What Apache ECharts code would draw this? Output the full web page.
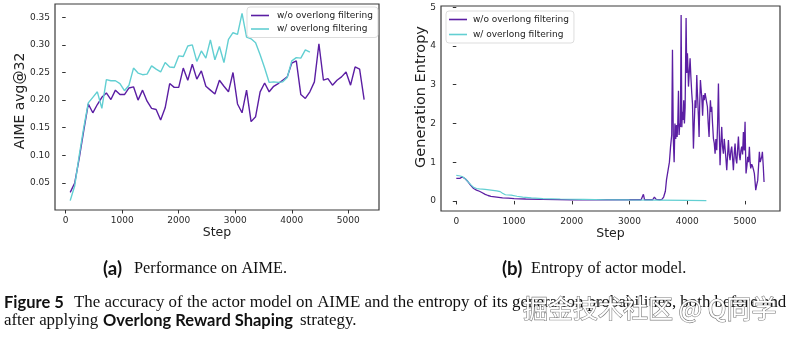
<!DOCTYPE html>
<html>
<head>
<meta charset="utf-8">
<script src="https://cdn.jsdelivr.net/npm/echarts@6/dist/echarts.min.js"></script>
<style>
  html, body { margin: 0; padding: 0; background: #fff; }
  #chart { width: 791px; height: 337px; }
</style>
</head>
<body>
<div id="chart"></div>
<script>
// ---- Panel (a): AIME avg@32, evaluated every 80 training steps ----
const aimeSteps = [80,160,240,320,400,480,560,640,720,800,880,960,1040,1120,1200,1280,1360,1440,1520,1600,
  1680,1760,1840,1920,2000,2080,2160,2240,2320,2400,2480,2560,2640,2720,2800,2880,2960,3040,3120,3200,
  3280,3360,3440,3520,3600,3680,3760,3840,3920,4000,4080,4160,4240,4320,4400,4480,4560,4640,4720,4800,
  4880,4960,5040,5120,5200,5280];
const aimeWithout = [0.033,0.050,0.095,0.145,0.193,0.177,0.192,0.205,0.213,0.201,
  0.218,0.210,0.210,0.222,0.224,0.200,0.218,0.198,0.185,0.183,
  0.164,0.186,0.230,0.223,0.223,0.258,0.236,0.265,0.238,0.253,
  0.225,0.218,0.211,0.236,0.225,0.215,0.250,0.193,0.177,0.218,
  0.161,0.170,0.215,0.231,0.215,0.225,0.230,0.236,0.242,0.267,
  0.271,0.210,0.203,0.215,0.233,0.302,0.236,0.239,0.227,0.236,
  0.242,0.251,0.227,0.260,0.256,0.201];
// the filtered run stops at step 4320
const aimeWith = [0.018,0.045,0.100,0.150,0.195,0.205,0.215,0.185,0.237,0.235,
  0.235,0.230,0.217,0.227,0.258,0.249,0.246,0.247,0.262,0.256,
  0.251,0.268,0.260,0.259,0.280,0.279,0.298,0.300,0.270,0.289,
  0.276,0.309,0.273,0.297,0.268,0.310,0.322,0.319,0.357,0.314,
  0.311,0.304,0.282,0.258,0.232,0.233,0.232,0.233,0.241,0.271,
  0.277,0.276,0.291,0.287];

// ---- Panel (b): generation entropy of the actor ----
// calm phase, up to the collapse at ~3700 steps
const entropyStepsCalm = [0,30,60,100,150,200,250,300,350,400,450,500,550,600,700,800,900,1000,1200,1500,
  2000,2500,3000,3200,3240,3260,3300,3400,3430,3460,3490,3520,3560,3590,3620,3640,3660,3690,3710,3730];
const entropyCalm = [0.58,0.60,0.58,0.62,0.58,0.50,0.40,0.32,0.28,0.25,0.21,0.17,0.14,0.12,0.10,0.08,0.07,0.06,0.05,0.04,
  0.03,0.03,0.03,0.03,0.17,0.03,0.03,0.03,0.10,0.04,0.08,0.03,0.04,0.10,0.25,0.55,0.55,1.00,1.40,1.70];
// unstable phase after the collapse
const entropyStepsWild = [3743,3758,3772,3786,3800,3812,3824,3835,3847,3858,
  3870,3881,3893,3905,3915,3927,3938,3950,3962,3979,
  3990,4002,4012,4020,4034,4048,4062,4077,4090,4106,
  4120,4135,4150,4164,4172,4181,4192,4204,4215,4227,
  4238,4250,4265,4279,4293,4308,4328,4348,4362,4377,
  4388,4400,4412,4423,4437,4452,4466,4481,4495,4510,
  4525,4539,4553,4567,4582,4596,4610,4625,4640,4654,
  4668,4683,4698,4712,4726,4740,4755,4769,4784,4798,
  4812,4827,4841,4856,4870,4885,4900,4914,4928,4942,
  4957,4971,4985,5000,5008,5017,5032,5046,5060,5075,
  5087,5098,5115,5133,5147,5161,5173,5185,5200,5219,
  5234,5248,5262,5277,5290,5300,5315,5329];
const entropyWild = [3.90,1.60,1.00,2.00,1.60,1.96,1.65,2.00,2.84,1.70,
  2.00,1.91,4.80,1.90,2.30,2.09,2.60,2.00,2.40,4.72,
  3.30,3.81,3.40,2.95,3.30,3.68,3.20,2.78,2.50,1.35,
  2.00,2.60,2.40,3.25,2.90,2.60,2.20,1.65,2.50,3.12,
  2.90,2.69,2.20,2.73,2.60,2.78,2.60,2.43,2.00,1.65,
  2.20,2.60,2.30,2.43,2.00,1.61,1.50,1.22,1.60,1.31,
  2.00,3.03,1.80,0.92,1.50,1.91,1.40,1.22,1.60,1.57,
  1.10,0.79,1.20,1.57,1.20,1.05,1.30,1.40,1.10,0.79,
  1.20,1.48,1.10,0.97,1.30,1.66,1.20,1.05,1.30,1.40,
  1.20,1.78,1.30,2.04,1.30,0.71,0.90,1.14,1.00,1.40,
  1.00,0.84,0.95,0.88,0.80,0.71,0.50,0.28,0.40,0.53,
  0.90,1.27,1.00,0.97,1.15,1.27,0.90,0.49];
const entropyStepsWith = [0,50,100,150,200,250,300,350,400,500,600,700,760,800,850,950,1050,1150,1300,1500,
  1800,2200,2600,3000,3500,4000,4330];
const entropyWith = [0.66,0.65,0.63,0.58,0.50,0.42,0.35,0.32,0.31,0.30,0.28,0.26,0.24,0.20,0.16,0.15,0.12,0.10,0.08,0.06,
  0.05,0.04,0.03,0.025,0.02,0.015,0.01];

// ---- tick labels and names ----
const stepTicks = [0,1000,2000,3000,4000,5000];
const aimeTicks = [0.05,0.10,0.15,0.20,0.25,0.30,0.35];
const entropyTicks = [0,1,2,3,4,5];
const seriesNames = ['w/o overlong filtering', 'w/ overlong filtering'];

const PURPLE = '#5b1ea3';
const CYAN = '#62cfd2';
const SANS = 'DejaVu Sans';
const SERIF = 'Liberation Serif';
const BOLD = 'Lato';

const zip = (xs, ys) => ys.map((y, i) => [xs[i], y]);

// font size that makes a string span a given width
const mctx = document.createElement('canvas').getContext('2d');
function fitSize(text, family, weight, width) {
  mctx.font = weight + ' 100px "' + family + '"';
  return 100 * width / mctx.measureText(text).width;
}

const capLine1 = 'The accuracy of the actor model on AIME and the entropy of its generation probabilities, both before and';
const serifSize = fitSize(capLine1, SERIF, 'normal', 713);
const boldSize = fitSize('Overlong Reward Shaping', BOLD, 'bold', 190);
const panelTagSize = fitSize('(a)', BOLD, 'bold', 19);
const subSize = fitSize('Performance on AIME.', SERIF, 'normal', 153);

function xAxisCfg(gridIndex, min, max) {
  return {
    type: 'value', gridIndex, min, max,
    axisLine: { show: false },
    axisTick: { show: true, length: 3.5, customValues: stepTicks, lineStyle: { color: '#333', width: 1 } },
    axisLabel: { customValues: stepTicks, fontSize: 9, fontFamily: SANS, color: '#2a2a2a', margin: 6,
      formatter: v => String(v) },
    splitLine: { show: false },
    name: 'Step', nameLocation: 'middle', nameGap: 16, nameMoveOverlap: false,
    nameTextStyle: { fontSize: 12.5, fontFamily: SANS, color: '#222' }
  };
}
function yAxisCfg(gridIndex, min, max, ticks, fmt) {
  return {
    type: 'value', gridIndex, min, max,
    axisLine: { show: false },
    axisTick: { show: true, length: 3.5, customValues: ticks, lineStyle: { color: '#333', width: 1 } },
    axisLabel: { customValues: ticks, fontSize: 9, fontFamily: SANS, color: '#2a2a2a', margin: 5, formatter: fmt },
    splitLine: { show: false }
  };
}
function legendCfg(left, top, gap, pad, textPad) {
  return {
    left, top, orient: 'vertical',
    data: seriesNames,
    icon: 'rect', itemWidth: 18, itemHeight: 1.6, itemGap: gap,
    padding: pad,
    borderColor: '#d4d4d4', borderWidth: 0.8, borderRadius: 3,
    backgroundColor: 'rgba(255,255,255,0.85)',
    textStyle: { fontSize: 9, fontFamily: SANS, color: '#222', padding: [0, 0, 0, textPad] }
  };
}
function lineSeries(name, xi, data, color, width) {
  return {
    type: 'line', name, xAxisIndex: xi, yAxisIndex: xi, data,
    symbol: 'none', smooth: false,
    lineStyle: { color, width }, itemStyle: { color },
    emphasis: { disabled: true }
  };
}
function txt(text, x, y, size, family, weight) {
  return {
    type: 'text', x, y, z: 10,
    style: { text, fill: '#111', font: weight + ' ' + size.toFixed(2) + 'px "' + family + '"',
      textAlign: 'left', textVerticalAlign: 'middle' }
  };
}
function vtitle(text, x, y, size) {
  return {
    type: 'text', x, y, rotation: Math.PI / 2, z: 10,
    style: { text, fill: '#222', font: size + 'px "' + SANS + '"', textAlign: 'center', textVerticalAlign: 'middle' }
  };
}

const chart = echarts.init(document.getElementById('chart'));
chart.setOption({
  animation: false,
  backgroundColor: '#fff',
  grid: [
    { left: 55, top: 4, width: 324, height: 206, show: true, borderColor: '#3a3a3a', borderWidth: 1.2 },
    { left: 441, top: 6, width: 339, height: 205, show: true, borderColor: '#3a3a3a', borderWidth: 1.2 }
  ],
  xAxis: [ xAxisCfg(0, -189, 5543), xAxisCfg(1, -265, 5605) ],
  yAxis: [
    yAxisCfg(0, 0.001, 0.374, aimeTicks, v => v.toFixed(2)),
    yAxisCfg(1, -0.26, 5.03, entropyTicks, v => String(v))
  ],
  legend: [ legendCfg(247, 7, 4.5, [4, 5, 4, 4], 3), legendCfg(446, 11, 6, [4, 5, 4, 3], 1) ],
  series: [
    lineSeries(seriesNames[0], 0, zip(aimeSteps, aimeWithout), PURPLE, 1.4),
    lineSeries(seriesNames[1], 0, zip(aimeSteps, aimeWith), CYAN, 1.4),
    lineSeries(seriesNames[0], 1,
      zip(entropyStepsCalm.concat(entropyStepsWild), entropyCalm.concat(entropyWild)), PURPLE, 1.3),
    lineSeries(seriesNames[1], 1, zip(entropyStepsWith, entropyWith), CYAN, 1.2)
  ],
  graphic: [
    vtitle('AIME avg@32', 20, 101, 14),
    vtitle('Generation Entropy', 421.5, 97, 14.5),
    // sub-captions
    txt('(a)', 103, 269, panelTagSize, BOLD, 'bold'),
    txt('Performance on AIME.', 134, 269, subSize, SERIF, 'normal'),
    txt('(b)', 502, 269, panelTagSize, BOLD, 'bold'),
    txt('Entropy of actor model.', 531, 269, subSize, SERIF, 'normal'),
    // figure caption
    txt('Figure 5', 4, 303, boldSize, BOLD, 'bold'),
    txt(capLine1, 74, 303, serifSize, SERIF, 'normal'),
    txt('after applying', 4, 321, serifSize, SERIF, 'normal'),
    txt('Overlong Reward Shaping', 103, 321, boldSize, BOLD, 'bold'),
    txt('strategy.', 300, 321, serifSize, SERIF, 'normal'),
    // site watermark
    {
      type: 'text', x: 523, y: 308, z: 20,
      style: { text: '掘金技术社区 @ Q同学', font: '25px "Noto Sans CJK SC"', fill: '#ffffff',
        stroke: 'rgba(80,80,80,0.75)', lineWidth: 1.2, textAlign: 'left', textVerticalAlign: 'middle' }
    }
  ]
});
</script>
</body>
</html>
